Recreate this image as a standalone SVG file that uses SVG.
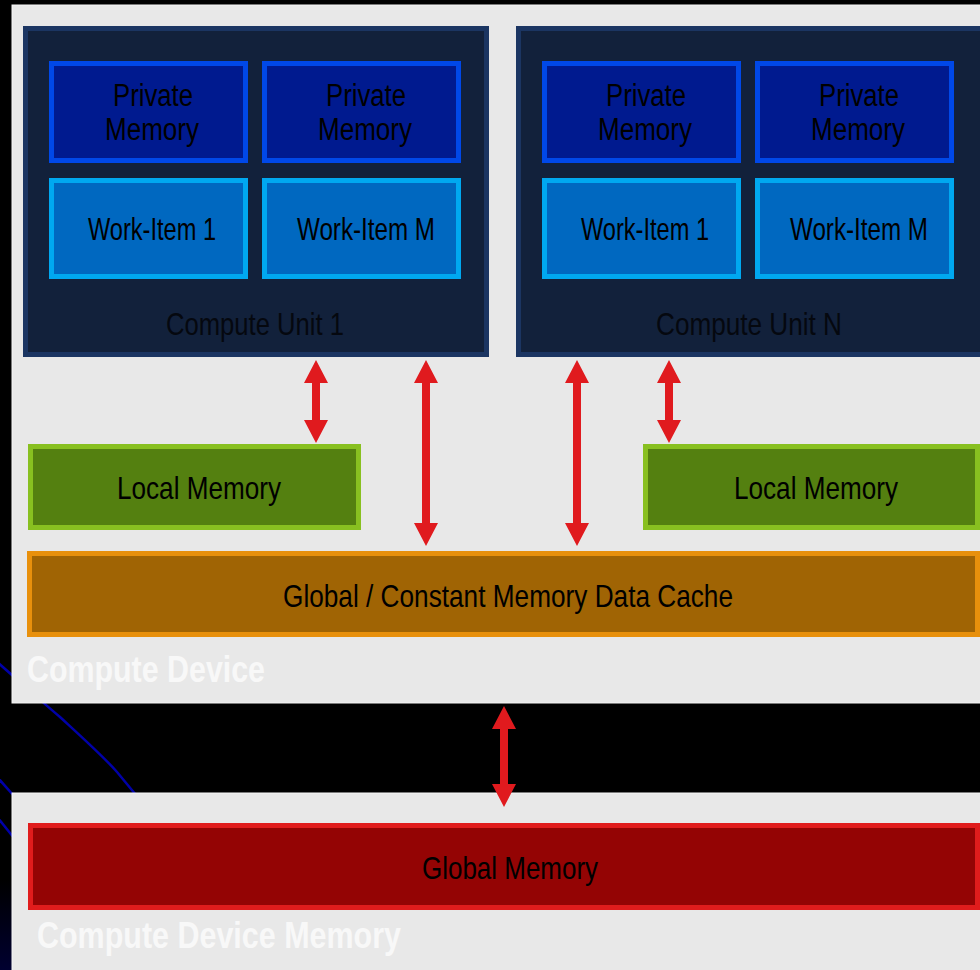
<svg xmlns="http://www.w3.org/2000/svg" width="980" height="970" viewBox="0 0 980 970">
  <defs>
    <linearGradient id="cornerGlow" x1="0" y1="0" x2="0" y2="1">
      <stop offset="0" stop-color="#000000"/>
      <stop offset="1" stop-color="#000030"/>
    </linearGradient>
  </defs>
  <style>
    .panel { fill: #e8e8e8; stroke: #f6f6f6; stroke-width: 1; }
    .cu { fill: #12213b; stroke: #1b3562; stroke-width: 5; }
    .pm { fill: #001a8f; stroke: #0048e8; stroke-width: 5; }
    .wi { fill: #0068c0; stroke: #00a8f0; stroke-width: 5; }
    .lm { fill: #548010; stroke: #88c020; stroke-width: 5; }
    .gc { fill: #a06404; stroke: #e8900c; stroke-width: 5; }
    .gm { fill: #940404; stroke: #e01c1c; stroke-width: 5; }
    .lbl { font-family: "Liberation Sans Narrow", "Liberation Sans", Arial, sans-serif; font-size: 32px; fill: #000000; text-anchor: middle; }
    .two { font-size: 31px; }
    .cul { fill: #05080f; }
    .title { font-family: "Liberation Sans Narrow", "Liberation Sans", Arial, sans-serif; font-size: 37px; font-weight: bold; fill: #f8f8f8; }
    .arrow { fill: #e01a1e; }
    .deco { fill: none; stroke: #0000a8; stroke-width: 2.5; }
  </style>

  <!-- backdrop -->
  <rect x="0" y="0" width="980" height="970" fill="#000000"/>
  <rect x="0" y="880" width="14" height="90" fill="url(#cornerGlow)"/>
  <path class="deco" d="M -4,661 C 20,682 40,700 60,717 C 85,740 105,758 117,772 L 136,795"/>
  <path class="deco" d="M -2,778 L 14,796"/>
  <path class="deco" d="M -2,818 L 14,838"/>

  <!-- device panels -->
  <g id="compute-device">
    <rect class="panel" x="12" y="5" width="975" height="698"/>
    <text class="title" x="27" y="682" textLength="238" lengthAdjust="spacingAndGlyphs">Compute Device</text>
  </g>
  <g id="compute-device-memory">
    <rect class="panel" x="12" y="793" width="975" height="185"/>
    <text class="title" x="37" y="948" textLength="364" lengthAdjust="spacingAndGlyphs">Compute Device Memory</text>
  </g>

  <!-- compute unit 1 -->
  <g id="compute-unit-1">
    <rect class="cu" x="25.5" y="28.5" width="461" height="326"/>
    <text class="lbl cul" x="255" y="335" textLength="178" lengthAdjust="spacingAndGlyphs">Compute Unit 1</text>
  </g>
  <g id="cu1-private-1">
    <rect class="pm" x="51.5" y="63.5" width="194" height="97"/>
    <text class="lbl two" x="153" y="106" textLength="80" lengthAdjust="spacingAndGlyphs">Private</text>
    <text class="lbl two" x="152" y="140" textLength="94" lengthAdjust="spacingAndGlyphs">Memory</text>
  </g>
  <g id="cu1-private-m">
    <rect class="pm" x="264.5" y="63.5" width="194" height="97"/>
    <text class="lbl two" x="366" y="106" textLength="80" lengthAdjust="spacingAndGlyphs">Private</text>
    <text class="lbl two" x="365" y="140" textLength="94" lengthAdjust="spacingAndGlyphs">Memory</text>
  </g>
  <g id="cu1-work-item-1">
    <rect class="wi" x="51.5" y="180.5" width="194" height="96"/>
    <text class="lbl" x="152" y="240" textLength="128" lengthAdjust="spacingAndGlyphs">Work-Item 1</text>
  </g>
  <g id="cu1-work-item-m">
    <rect class="wi" x="264.5" y="180.5" width="194" height="96"/>
    <text class="lbl" x="366" y="240" textLength="138" lengthAdjust="spacingAndGlyphs">Work-Item M</text>
  </g>

  <!-- compute unit N -->
  <g id="compute-unit-n">
    <rect class="cu" x="518.5" y="28.5" width="470" height="326"/>
    <text class="lbl cul" x="749" y="335" textLength="186" lengthAdjust="spacingAndGlyphs">Compute Unit N</text>
  </g>
  <g id="cun-private-1">
    <rect class="pm" x="544.5" y="63.5" width="194" height="97"/>
    <text class="lbl two" x="646" y="106" textLength="80" lengthAdjust="spacingAndGlyphs">Private</text>
    <text class="lbl two" x="645" y="140" textLength="94" lengthAdjust="spacingAndGlyphs">Memory</text>
  </g>
  <g id="cun-private-m">
    <rect class="pm" x="757.5" y="63.5" width="194" height="97"/>
    <text class="lbl two" x="859" y="106" textLength="80" lengthAdjust="spacingAndGlyphs">Private</text>
    <text class="lbl two" x="858" y="140" textLength="94" lengthAdjust="spacingAndGlyphs">Memory</text>
  </g>
  <g id="cun-work-item-1">
    <rect class="wi" x="544.5" y="180.5" width="194" height="96"/>
    <text class="lbl" x="645" y="240" textLength="128" lengthAdjust="spacingAndGlyphs">Work-Item 1</text>
  </g>
  <g id="cun-work-item-m">
    <rect class="wi" x="757.5" y="180.5" width="194" height="96"/>
    <text class="lbl" x="859" y="240" textLength="138" lengthAdjust="spacingAndGlyphs">Work-Item M</text>
  </g>

  <!-- memories -->
  <g id="local-memory-1">
    <rect class="lm" x="30.5" y="446.5" width="328" height="81"/>
    <text class="lbl" x="199" y="499" textLength="164" lengthAdjust="spacingAndGlyphs">Local Memory</text>
  </g>
  <g id="local-memory-n">
    <rect class="lm" x="645.5" y="446.5" width="332" height="81"/>
    <text class="lbl" x="816" y="499" textLength="164" lengthAdjust="spacingAndGlyphs">Local Memory</text>
  </g>
  <g id="global-constant-cache">
    <rect class="gc" x="29.5" y="553.5" width="948" height="81"/>
    <text class="lbl" x="508" y="607" textLength="450" lengthAdjust="spacingAndGlyphs">Global / Constant Memory Data Cache</text>
  </g>
  <g id="global-memory">
    <rect class="gm" x="30.5" y="825.5" width="947" height="82"/>
    <text class="lbl" x="510" y="879" textLength="176" lengthAdjust="spacingAndGlyphs">Global Memory</text>
  </g>

  <!-- connectors: double-headed block arrows -->
  <g id="connectors">
    <path class="arrow" d="M316,360 L328,383 L320,383 L320,420 L328,420 L316,443 L304,420 L312,420 L312,383 L304,383 Z"/>
    <path class="arrow" d="M426,360 L438,383 L430,383 L430,523 L438,523 L426,546 L414,523 L422,523 L422,383 L414,383 Z"/>
    <path class="arrow" d="M577,360 L589,383 L581,383 L581,523 L589,523 L577,546 L565,523 L573,523 L573,383 L565,383 Z"/>
    <path class="arrow" d="M669,360 L681,383 L673,383 L673,420 L681,420 L669,443 L657,420 L665,420 L665,383 L657,383 Z"/>
    <path class="arrow" d="M504,706 L516,729 L508,729 L508,784 L516,784 L504,807 L492,784 L500,784 L500,729 L492,729 Z"/>
  </g>
</svg>
